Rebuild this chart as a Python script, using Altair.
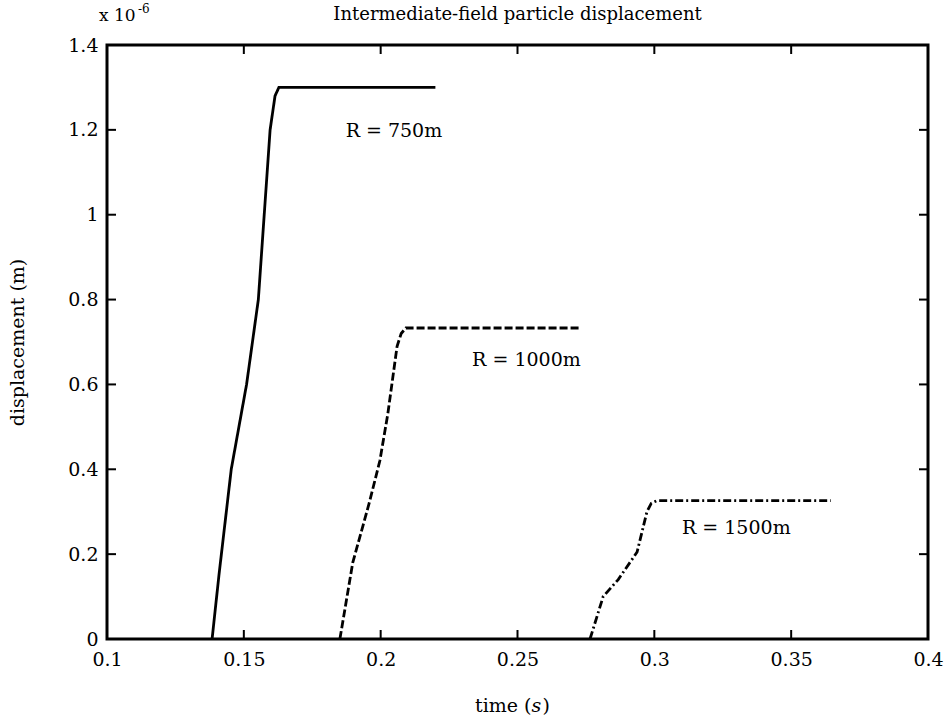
import altair as alt
import pandas as pd

# series values (time in s, displacement in units of 1e-6 m)
t750 = [0.1384, 0.1409, 0.1454, 0.1510, 0.1553, 0.1596, 0.1614, 0.1628, 0.2200]
d750 = [0.0, 0.15, 0.40, 0.60, 0.80, 1.20, 1.28, 1.30, 1.30]

t1000 = [0.1851, 0.1898, 0.1958, 0.1997, 0.2026, 0.2060, 0.2075, 0.2092, 0.2724]
d1000 = [0.0, 0.18, 0.32, 0.42, 0.53, 0.69, 0.72, 0.733, 0.733]

t1500 = [0.2765, 0.2813, 0.2868, 0.2937, 0.2973, 0.2989, 0.3009, 0.3645]
d1500 = [0.0, 0.10, 0.14, 0.205, 0.30, 0.32, 0.326, 0.326]

series_names = ["R = 750m", "R = 1000m", "R = 1500m"]
label_t = [0.1872, 0.2334, 0.3101]
label_d = [1.197, 0.658, 0.262]

x_ticks = [0.1, 0.15, 0.2, 0.25, 0.3, 0.35, 0.4]
y_ticks = [0, 0.2, 0.4, 0.6, 0.8, 1.0, 1.2, 1.4]

title_text = "Intermediate-field particle displacement"

FONT = "DejaVu Serif"
FS = 19
W, H = 821, 594

rows = []
for name, ts, ds in zip(series_names, [t750, t1000, t1500], [d750, d1000, d1500]):
    for i, (t, d) in enumerate(zip(ts, ds)):
        rows.append({"series": name, "t": t, "d": d, "order": i})
df = pd.DataFrame(rows)
labels = pd.DataFrame({"series": series_names, "t": label_t, "d": label_d})
xt = pd.DataFrame({"v": x_ticks})
yt = pd.DataFrame({"v": y_ticks})

xscale = alt.Scale(domain=[0.1, 0.4], nice=False, zero=False)
yscale = alt.Scale(domain=[0, 1.4], nice=False, zero=False)

lines = alt.Chart(df).mark_line(color="black", strokeWidth=2.8).encode(
    x=alt.X("t:Q", scale=xscale,
            axis=alt.Axis(values=x_ticks, format="~g", title=None, ticks=False,
                          labelFont=FONT, labelFontSize=FS, labelColor="black",
                          labelPadding=11, labelFlush=False, domain=False, grid=False)),
    y=alt.Y("d:Q", scale=yscale,
            axis=alt.Axis(values=y_ticks, format="~g", title="displacement (m)",
                          ticks=False, labelFont=FONT, labelFontSize=FS,
                          labelColor="black", labelPadding=9, labelFlush=False,
                          domain=False, grid=False,
                          titleFont=FONT, titleFontSize=FS, titleFontWeight="normal",
                          titleColor="black", titlePadding=40)),
    strokeDash=alt.StrokeDash("series:N",
                              scale=alt.Scale(domain=series_names,
                                              range=[[1, 0], [8, 3], [8, 3, 2, 3]]),
                              legend=None),
    order="order:Q",
    detail="series:N",
)

texts = alt.Chart(labels).mark_text(align="left", baseline="middle", font=FONT,
                                    fontSize=FS, color="black").encode(
    x=alt.X("t:Q", scale=xscale), y=alt.Y("d:Q", scale=yscale), text="series:N")

tick_len = 9
xt_bottom = alt.Chart(xt).mark_rule(color="black", strokeWidth=2).encode(
    x=alt.X("v:Q", scale=xscale), y=alt.value(H), y2=alt.value(H - tick_len))
xt_top = alt.Chart(xt).mark_rule(color="black", strokeWidth=2).encode(
    x=alt.X("v:Q", scale=xscale), y=alt.value(0), y2=alt.value(tick_len))
yt_left = alt.Chart(yt).mark_rule(color="black", strokeWidth=2).encode(
    y=alt.Y("v:Q", scale=yscale), x=alt.value(0), x2=alt.value(tick_len))
yt_right = alt.Chart(yt).mark_rule(color="black", strokeWidth=2).encode(
    y=alt.Y("v:Q", scale=yscale), x=alt.value(W), x2=alt.value(W - tick_len))

ann = pd.DataFrame({"a": [0]})
title_mark = alt.Chart(ann).mark_text(align="center", baseline="middle", font=FONT,
                                      fontSize=18, color="black").encode(
    x=alt.value(W / 2), y=alt.value(-30), text=alt.value(title_text))
exp_base = alt.Chart(ann).mark_text(align="left", baseline="middle", font=FONT,
                                    fontSize=17, color="black").encode(
    x=alt.value(-8), y=alt.value(-29), text=alt.value("x 10"))
exp_sup = alt.Chart(ann).mark_text(align="left", baseline="middle", font=FONT,
                                   fontSize=12, color="black").encode(
    x=alt.value(31), y=alt.value(-36), text=alt.value("-6"))

xt1 = alt.Chart(ann).mark_text(align="right", baseline="middle", font=FONT,
                               fontSize=FS, color="black").encode(
    x=alt.value(W / 2 + 14), y=alt.value(H + 67), text=alt.value("time ("))
xt2 = alt.Chart(ann).mark_text(align="left", baseline="middle", font=FONT,
                               fontSize=FS, fontStyle="italic", color="black").encode(
    x=alt.value(W / 2 + 14), y=alt.value(H + 67), text=alt.value("s"))
xt3 = alt.Chart(ann).mark_text(align="left", baseline="middle", font=FONT,
                               fontSize=FS, color="black").encode(
    x=alt.value(W / 2 + 25), y=alt.value(H + 67), text=alt.value(")"))

chart = alt.layer(lines, texts, xt_bottom, xt_top, yt_left, yt_right,
                  title_mark, exp_base, exp_sup, xt1, xt2, xt3).properties(
    width=W, height=H,
    padding={"left": 107, "top": 45, "right": 16, "bottom": 86},
    autosize=alt.AutoSizeParams(type="none"),
    background="white",
).configure_view(stroke="black", strokeWidth=3)

chart.save("out.html", embed_options={"renderer": "svg", "actions": False})
